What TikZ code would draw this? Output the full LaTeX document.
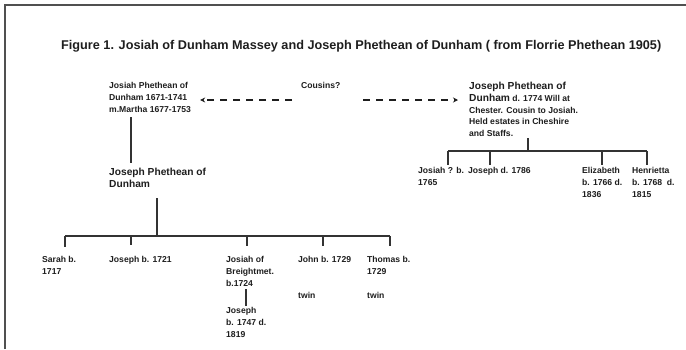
\documentclass[tikz,border=0pt]{standalone}
\usepackage{fontspec}
\setmainfont{Liberation Sans}
\usetikzlibrary{arrows.meta}
\definecolor{ink}{HTML}{1E1E1E}
\definecolor{linec}{HTML}{333333}
\definecolor{framec}{HTML}{505050}
\newcommand{\smallfont}{\fontsize{8.6}{12}\selectfont\bfseries}
\newcommand{\rightfont}{\fontsize{8.6}{11.6}\selectfont\bfseries}
\newcommand{\bigfont}{\fontsize{10.2}{11.8}\selectfont\bfseries}
\begin{document}
\begin{tikzpicture}[x=1pt,y=-1pt,
  lbl/.style={anchor=north west,inner sep=0pt,align=left,text=ink,font=\smallfont},
  biglbl/.style={anchor=north west,inner sep=0pt,align=left,text=ink,font=\bigfont},
  tree/.style={draw=linec,line width=1.1pt},
  cousarrow/.style={draw=ink,line width=1.3pt,dash pattern=on 7pt off 6pt,-{Stealth[length=5pt,width=5pt]}}]
\useasboundingbox (0,0) rectangle (686,349);
\fill[white] (0,0) rectangle (686,349);
% frame
\draw[framec,line width=2pt] (5,349) -- (5,5) -- (686,5);
% title
\node[anchor=base west,inner sep=0pt,text=ink] (title) at (61,49.5)
  {\resizebox{600pt}{!}{\bfseries Figure 1. Josiah of Dunham Massey and Joseph Phethean of Dunham ( from Florrie Phethean 1905)}};
% top generation
\node[lbl] (josiah) at (109,82) {Josiah Phethean of\\Dunham 1671-1741\\m.Martha 1677-1753};
\node[lbl] (cousins) at (301,82) {Cousins?};
\node[lbl,font=\rightfont] (rjp) at (469,82.3) {{\bigfont Joseph Phethean of}\\{\bigfont Dunham} d. 1774 Will at\\Chester. Cousin to Josiah.\\Held estates in Cheshire\\and Staffs.};
\coordinate (la) at (292,100);
\coordinate (ra) at (363,100);
\draw[cousarrow] (la) -- ([xshift=9]josiah.east |- la);
\draw[cousarrow] (ra) -- ([xshift=-11]rjp.west |- ra);
% left line
\node[biglbl] (jp) at (109,168.3) {Joseph Phethean of\\Dunham};
\coordinate (j1a) at (131,117);
\coordinate (j1b) at (131,163);
\draw[tree] (j1a) -- (j1b);
\coordinate (j2a) at (157,198);
\coordinate (bar) at (157,236);
\draw[tree] (j2a) -- (bar);
% children of Joseph
\node[lbl] (sarah) at (42,256) {Sarah b.\\1717};
\node[lbl] (joseph1721) at (109,256) {Joseph b. 1721};
\node[lbl] (josiahB) at (226,256) {Josiah of\\Breightmet.\\b.1724};
\node[lbl] (john) at (298,256) {John b. 1729};
\node[lbl] (thomas) at (367,256) {Thomas b.\\1729};
\node[lbl] (twin1) at (298,292) {twin};
\node[lbl] (twin2) at (367,292) {twin};
\node[lbl] (josephB) at (226,307) {Joseph\\b. 1747 d.\\1819};
\coordinate (bl) at (65,236);
\coordinate (br) at (390,236);
\draw[tree] (bl) -- (br);
\draw[tree] (bl) -- (65,247);
\draw[tree] (131,236) -- (131,245);
\draw[tree] (247,236) -- (247,246);
\draw[tree] (323,236) -- (323,246);
\draw[tree] (br) -- (390,246);
\coordinate (jb1) at (246,289);
\coordinate (jb2) at (246,306);
\draw[tree] (jb1) -- (jb2);
% right children
\coordinate (r1) at (528,138);
\coordinate (rbar) at (528,151);
\draw[tree] (r1) -- (rbar);
\draw[tree] (448,151) -- (647,151);
\draw[tree] (448,151) -- (448,165);
\draw[tree] (490,151) -- (490,165);
\draw[tree] (602,151) -- (602,165);
\draw[tree] (647,151) -- (647,165);
\node[lbl] (rjosiah) at (418,167) {Josiah ? b.\\1765};
\node[lbl] (rjoseph) at (468,167) {Joseph d. 1786};
\node[lbl] (elizabeth) at (582,167) {Elizabeth\\b. 1766 d.\\1836};
\node[lbl] (henrietta) at (632,167) {Henrietta\\b. 1768~ d.\\1815};
\end{tikzpicture}
\end{document}
